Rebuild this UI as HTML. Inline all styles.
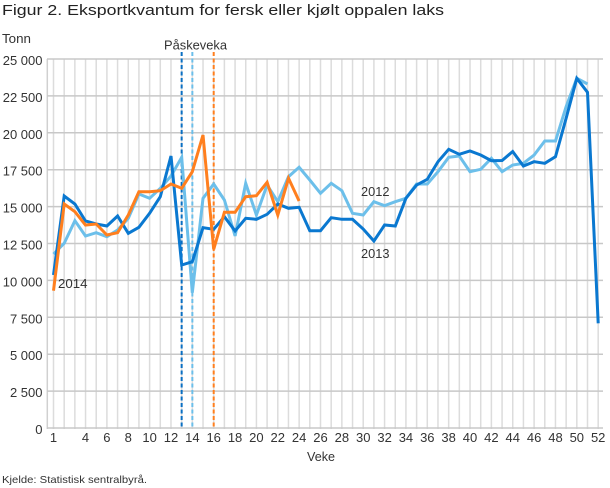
<!DOCTYPE html>
<html><head><meta charset="utf-8"><style>
html,body{margin:0;padding:0;background:#fff;}
svg{display:block;}
text{font-family:"Liberation Sans",sans-serif;}
</style></head><body>
<svg width="610" height="488" viewBox="0 0 610 488" xmlns="http://www.w3.org/2000/svg">
<rect width="610" height="488" fill="#fff"/>
<text x="2" y="15" font-size="14.5" fill="#222" textLength="442" lengthAdjust="spacingAndGlyphs">Figur 2. Eksportkvantum for fersk eller kjølt oppalen laks</text>
<text x="2" y="43" font-size="12.5" fill="#333" textLength="29" lengthAdjust="spacingAndGlyphs">Tonn</text>
<text x="164" y="49.5" font-size="12.5" fill="#333" textLength="63" lengthAdjust="spacingAndGlyphs">Påskeveka</text>
<g id="grid"></g>
<g id="dash"></g>
<g id="series"></g>
<g id="labels" font-size="13" fill="#333"></g>
<text x="307" y="461" font-size="12.5" fill="#333" textLength="28" lengthAdjust="spacingAndGlyphs">Veke</text>
<text x="2" y="483" font-size="10.5" fill="#333" textLength="145" lengthAdjust="spacingAndGlyphs">Kjelde: Statistisk sentralbyrå.</text>
<text x="58" y="288" font-size="13" fill="#333" textLength="29.5" lengthAdjust="spacingAndGlyphs">2014</text>
<text x="361" y="196" font-size="13" fill="#333" textLength="28.5" lengthAdjust="spacingAndGlyphs">2012</text>
<text x="361" y="258" font-size="13" fill="#333" textLength="28.5" lengthAdjust="spacingAndGlyphs">2013</text>
<script>
var NS="http://www.w3.org/2000/svg";
function el(p,t,a,txt){var e=document.createElementNS(NS,t);for(var k in a)e.setAttribute(k,a[k]);if(txt!==undefined)e.textContent=txt;p.appendChild(e);return e;}
function X(w){return 53.5+(w-1)*10.68;}
function Y(v){return 428-v*0.01476;}
var g=document.getElementById('grid');
for(var w=1;w<=52;w++){el(g,'line',{x1:X(w),x2:X(w),y1:59,y2:429,stroke:'#dcdcdc','stroke-width':1.5});}
el(g,'line',{x1:47.3,x2:47.3,y1:59,y2:429,stroke:'#d0d0d0','stroke-width':1.5});
for(var i=0;i<=10;i++){var y=Y(i*2500);el(g,'line',{x1:47,x2:603,y1:y,y2:y,stroke:'#c8c8c8','stroke-width':1.5});}
var lb=document.getElementById('labels');
var yl=['0','2 500','5 000','7 500','10 000','12 500','15 000','17 500','20 000','22 500','25 000'];
for(var i=0;i<=10;i++){el(lb,'text',{x:42.5,y:Y(i*2500)+6,'text-anchor':'end'},yl[i]);}
var xs=[1,4,6,8,10,12,14,16,18,20,22,24,26,28,30,32,34,36,38,40,42,44,46,48,50,52];
xs.forEach(function(w){el(lb,'text',{x:X(w),y:442,'text-anchor':'middle'},String(w));});
var d=document.getElementById('dash');
[[13,'#0a6fc2'],[14,'#6cbfea'],[16,'#ff7f1e']].forEach(function(p){el(d,'line',{x1:X(p[0]),x2:X(p[0]),y1:52,y2:428,stroke:p[1],'stroke-width':2,'stroke-dasharray':'4,2.5'});});
var s12=[254,243.3,220.7,236,232.7,236.7,230,218.3,194,198.3,188.3,176,157.3,292.7,198.3,184,200,236,183.3,215,185,201.7,176.7,167.3,180,193.3,183.3,190.7,213.3,215,201.7,205.7,201.7,198.3,184,184,171.7,157.3,156,171.7,169.3,158.3,171.7,165,163.3,155,141,141,106.7,78.3,84];
var s13=[275,196,204,221,224,226,216,233.3,227.3,213.3,196.7,156,265,261.7,227.7,229.3,216.7,231,218.3,219.3,214.3,204,208.3,207.3,230.7,230.7,217.7,219.3,219.3,229,241,225,226,198.3,185,179.3,161.7,149.3,154.3,151,155,160.7,160.5,151.5,166,161.7,163.3,156.7,118.3,78.3,92.3,323.3];
var s14=[290.7,204,211.7,225,224,235,232.7,215,191.7,191.7,190.7,184,188.3,171.7,135,249.3,212.3,212.3,196.7,195.7,182.3,215,178.3,201];
var sg=document.getElementById('series');
[[s12,'#6cbfea'],[s13,'#0a78d0'],[s14,'#ff7f1e']].forEach(function(p){
 var pts=p[0].map(function(y,i){return X(i+1).toFixed(1)+','+y;}).join(' ');
 el(sg,'polyline',{points:pts,fill:'none',stroke:p[1],'stroke-width':3,'stroke-linejoin':'miter','stroke-miterlimit':4,'stroke-linecap':'butt'});
});
</script>
</svg>
</body></html>
